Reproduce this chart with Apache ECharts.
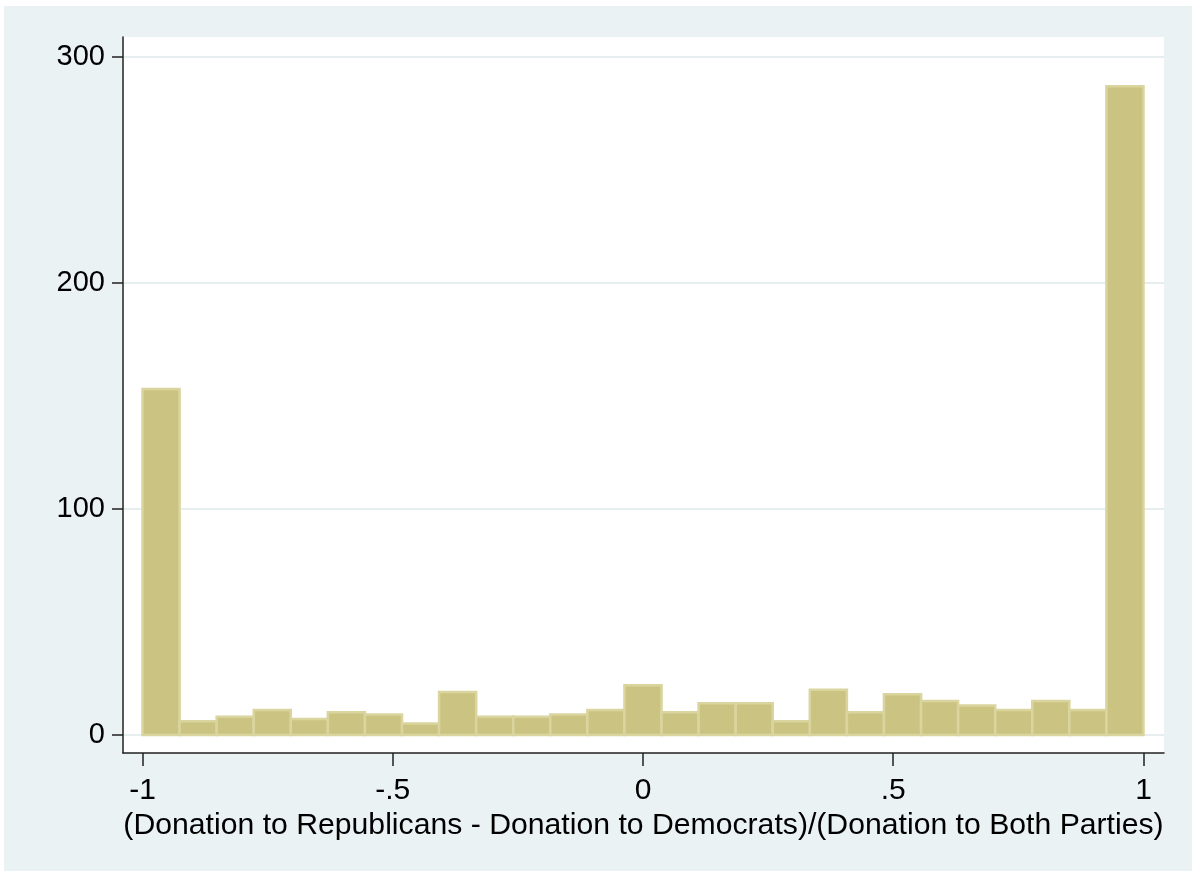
<!DOCTYPE html>
<html>
<head>
<meta charset="utf-8">
<script src="https://cdn.jsdelivr.net/npm/echarts@6/dist/echarts.min.js"></script>
<style>
html,body{margin:0;padding:0;background:#fff;}
#chart{width:1192px;height:871px;}
</style>
</head>
<body>
<div id="chart"></div>
<script>
// Histogram: 27 bins from -1 to 1
const binStart = -1;
const binEnd = 1;
const counts = [153, 6, 8, 11, 7, 10, 9, 5, 19, 8, 8, 9, 11, 22, 10, 14, 14, 6, 20, 10, 18, 15, 13, 11, 15, 11, 287];
const xTickValues = [-1, -0.5, 0, 0.5, 1];
const xTickLabels = ['-1', '-.5', '0', '.5', '1'];
const yTickValues = [0, 100, 200, 300];
const yTickLabels = ['0', '100', '200', '300'];
const xTitle = '(Donation to Republicans - Donation to Democrats)/(Donation to Both Parties)';

const binW = (binEnd - binStart) / counts.length;
const barData = counts.map((c, i) => [binStart + i * binW, binStart + (i + 1) * binW, c]);

const chart = echarts.init(document.getElementById('chart'), null, {renderer: 'canvas'});
const FONT = "'Liberation Sans', Arial, sans-serif";

chart.setOption({
  animation: false,
  backgroundColor: '#ffffff',
  graphic: [{
    type: 'rect', z: -10, silent: true,
    shape: {x: 4, y: 6, width: 1188, height: 865},
    style: {fill: '#eaf2f3'}
  }],
  grid: {
    left: 123, top: 37, right: 28, bottom: 118,
    show: true, backgroundColor: '#ffffff', borderWidth: 0
  },
  xAxis: {
    type: 'value',
    min: -1.039, max: 1.041,
    name: xTitle,
    nameLocation: 'middle',
    nameGap: 52,
    nameTextStyle: {color: '#000', fontFamily: FONT, fontSize: 30.2},
    axisLine: {show: true, onZero: false, lineStyle: {color: '#222', width: 1.5}},
    axisTick: {show: true, customValues: xTickValues, length: 13, lineStyle: {color: '#222', width: 1.5}},
    axisLabel: {
      customValues: xTickValues,
      margin: 23,
      color: '#000', fontFamily: FONT, fontSize: 30,
      formatter: v => xTickLabels[xTickValues.findIndex(t => Math.abs(t - v) < 1e-9)]
    },
    splitLine: {show: false}
  },
  yAxis: {
    type: 'value',
    min: -8, max: 308.8,
    axisLine: {show: true, onZero: false, lineStyle: {color: '#222', width: 1.5}},
    axisTick: {show: true, customValues: yTickValues, length: 11, lineStyle: {color: '#222', width: 1.5}},
    axisLabel: {
      customValues: yTickValues,
      margin: 18,
      color: '#000', fontFamily: FONT, fontSize: 29,
      formatter: v => yTickLabels[yTickValues.findIndex(t => Math.abs(t - v) < 1e-9)]
    },
    splitLine: {show: true, lineStyle: {color: '#e6eef0', width: 2}}
  },
  series: [{
    type: 'custom',
    data: barData,
    encode: {x: [0, 1], y: 2},
    renderItem: function (params, api) {
      const p0 = api.coord([api.value(0), 0]);
      const p1 = api.coord([api.value(1), api.value(2)]);
      return {
        type: 'rect',
        shape: {x: p0[0], y: p1[1], width: p1[0] - p0[0], height: p0[1] - p1[1]},
        style: {fill: '#cbc381', stroke: '#dad59e', lineWidth: 2.5}
      };
    }
  }]
});
</script>
</body>
</html>
